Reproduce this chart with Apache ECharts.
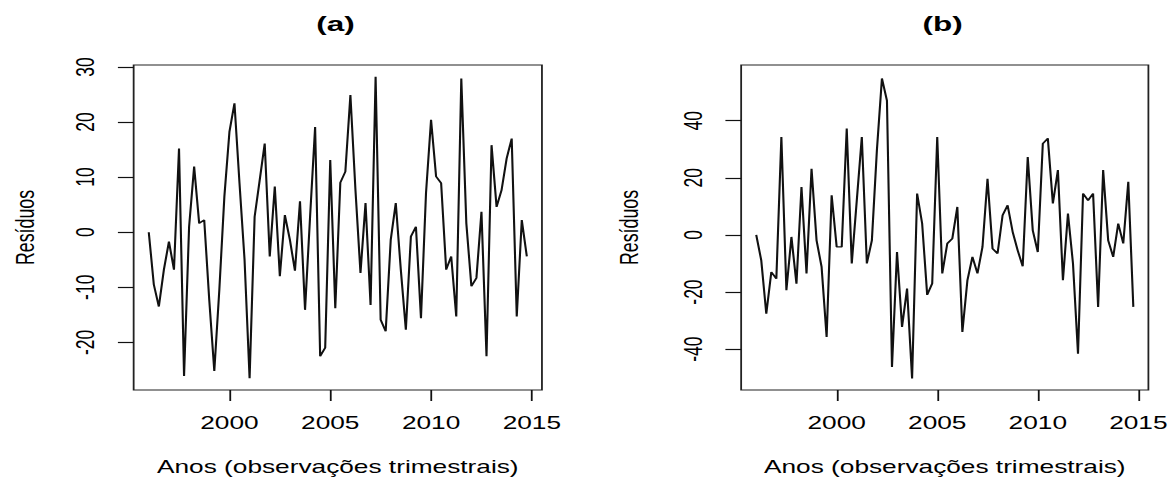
<!DOCTYPE html>
<html><head><meta charset="utf-8">
<script src="https://cdn.jsdelivr.net/npm/echarts@6/dist/echarts.min.js"></script>
<style>
html,body{margin:0;padding:0;background:#fff;overflow:hidden}
#wrap{width:1175px;height:480px;overflow:hidden;background:#fff}
#chart{width:783.33px;height:480px;transform:scaleX(1.5);transform-origin:0 0}
</style></head><body>
<div id="wrap"><div id="chart"></div></div>
<script>
// quarterly observations, 1996 Q1 .. 2014 Q4
const startYear = 1996;
const residA = [0, -9.5, -13.5, -6.8, -1.7, -6.8, 15.2, -26.1, 1.0, 11.9,
  1.6, 2.2, -12.3, -25.2, -10.4, 6.5, 18.2, 23.4, 8.9, -5.0,
  -26.5, 2.8, 9.4, 16.1, -4.4, 8.3, -8.0, 3.1, -1.4, -7.0,
  5.6, -14.1, 2.8, 19.1, -22.5, -21.0, 13.1, -13.8, 9.0, 11.0,
  24.9, 7.7, -7.4, 5.3, -13.2, 28.2, -15.9, -18.0, -1.4, 5.3,
  -6.8, -17.7, -0.8, 1.0, -15.6, 7.1, 20.4, 10.1, 8.9, -6.8,
  -4.4, -15.3, 27.9, 1.6, -9.8, -8.3, 3.7, -22.5, 15.8, 4.6,
  7.7, 13.4, 17.0, -15.3, 2.2, -4.4];
const residB = [0, -8.9, -27.6, -13.0, -15.3, 34.3, -19.4, -0.7, -17.1, 16.8,
  -13.5, 23.2, -1.9, -11.2, -35.7, 13.9, -4.2, -4.2, 37.3, -10.0,
  12.1, 34.3, -10.0, -1.9, 29.7, 54.8, 47.0, -46.2, -6.0, -32.2,
  -18.8, -50.3, 14.5, 4.0, -21.0, -17.0, 34.3, -13.5, -3.0, -1.3,
  9.8, -34.0, -15.9, -7.7, -13.5, -4.2, 19.7, -4.8, -6.5, 6.9,
  10.4, 1.1, -5.4, -11.0, 27.3, 1.6, -6.0, 32.0, 33.8, 11.0,
  22.7, -15.9, 7.5, -10.0, -41.6, 14.5, 12.1, 14.5, -25.2, 22.7,
  -1.9, -7.7, 4.0, -3.0, 18.6, -25.2];
const xTicks = [2000, 2005, 2010, 2015];
const yTicksA = [-20, -10, 0, 10, 20, 30];
const yTicksB = [-40, -20, 0, 20, 40];
const panelTitles = ['(a)', '(b)'];
const yName = 'Resíduos';
const xName = 'Anos (observações trimestrais)';

const FONT = '"Liberation Sans", Arial, Helvetica, sans-serif';
const toPairs = arr => arr.map((v, i) => [startYear + i / 4, v]);

const grids = [
  {left: 89.1, top: 65, width: 272.2, height: 325},
  {left: 494.1, top: 65, width: 271.5, height: 325}
];
const yRanges = [[-28.65, 30.35], [-54.3, 59.5]];
const yTicks = [yTicksA, yTicksB];
const nameGaps = [63.5, 65.8];

const chart = echarts.init(document.getElementById('chart'), null, {renderer: 'svg'});
const opt = {
  animation: false,
  backgroundColor: '#fff',
  title: panelTitles.map((t, k) => ({
    text: t,
    left: grids[k].left + grids[k].width / 2 - 6.5,
    top: 8.7,
    textAlign: 'center',
    textStyle: {fontFamily: FONT, fontSize: 21, fontWeight: 'bold', color: '#000'}
  })),
  grid: grids.map(g => Object.assign({
    show: true, borderColor: '#222', borderWidth: 1.2, backgroundColor: 'transparent',
    containLabel: false, outerBoundsMode: 'none'
  }, g)),
  xAxis: grids.map((g, k) => ({
    type: 'value', gridIndex: k, min: 1995.25, max: 2015.5,
    splitLine: {show: false}, axisLine: {show: false, onZero: false},
    axisTick: {show: true, customValues: xTicks, length: 11, inside: false,
      lineStyle: {color: '#111', width: 1.2}},
    axisLabel: {show: true, customValues: xTicks, margin: 24.25, color: '#000',
      fontSize: 17.5, fontFamily: FONT, formatter: v => String(v)},
    name: xName, nameLocation: 'middle', nameGap: 68,
    nameTextStyle: {fontFamily: FONT, fontSize: 17.5, color: '#000'}
  })),
  yAxis: grids.map((g, k) => ({
    type: 'value', gridIndex: k, min: yRanges[k][0], max: yRanges[k][1],
    splitLine: {show: false}, axisLine: {show: false, onZero: false},
    axisTick: {show: true, customValues: yTicks[k], length: 10.5, inside: false,
      lineStyle: {color: '#111', width: 1.2}},
    axisLabel: {show: true, customValues: yTicks[k], rotate: 90, margin: 23, color: '#000',
      fontSize: 17.5, fontFamily: FONT, formatter: v => String(v)},
    name: yName, nameLocation: 'middle', nameRotate: 90, nameGap: nameGaps[k],
    nameTextStyle: {fontFamily: FONT, fontSize: 17.8, color: '#000'}
  })),
  series: [residA, residB].map((arr, k) => ({
    type: 'line', xAxisIndex: k, yAxisIndex: k, data: toPairs(arr),
    showSymbol: false, symbol: 'none', smooth: false,
    lineStyle: {color: '#111', width: 1.4}, silent: true
  }))
};
chart.setOption(opt);
</script>
</body></html>
